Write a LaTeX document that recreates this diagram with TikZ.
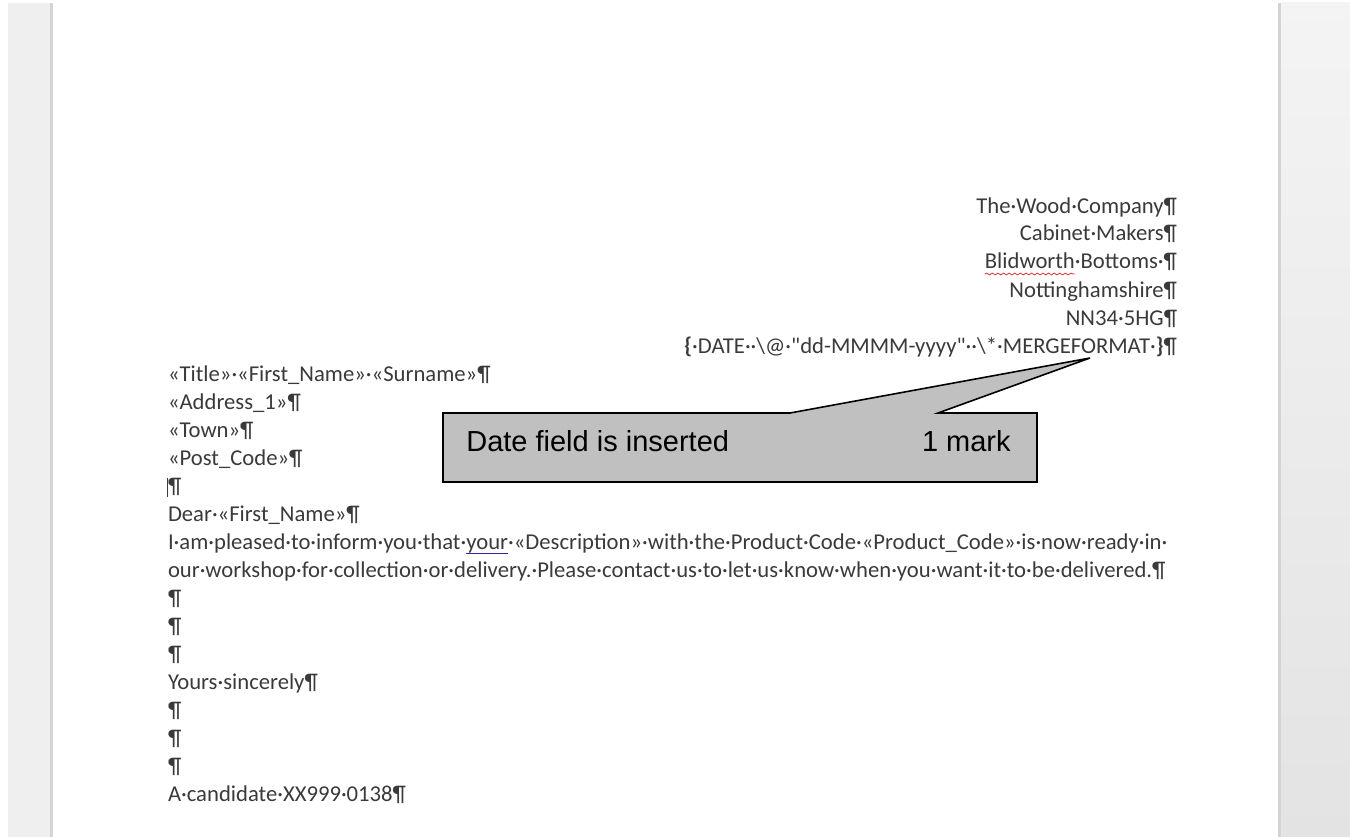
\documentclass[tikz,border=0pt]{standalone}
\usepackage{fontspec}
\newfontfamily\docfont{Carlito}
\newfontfamily\arialfont{Liberation Sans}
\usepackage{xcolor}
\definecolor{docgray}{RGB}{58, 58, 58}
\definecolor{framegray}{RGB}{239, 239, 239}
\definecolor{edgegray}{RGB}{212, 212, 212}
\definecolor{notegray}{RGB}{192, 192, 192}
\definecolor{spellred}{RGB}{214, 64, 72}
\definecolor{grammarblue}{RGB}{44, 44, 150}
\usepackage{tikz}
\usetikzlibrary{positioning, calc, decorations.pathmorphing}

\tikzset{
  doc/.style={font=\docfont\fontsize{12.9}{15.5}\selectfont, text=docgray, inner sep=0pt, outer sep=0pt},
  left line/.style={doc, anchor=base west},
  right line/.style={doc, anchor=base east},
  note text/.style={font=\arialfont\fontsize{16.5}{19}\selectfont, inner sep=0pt, anchor=base west},
  note box/.style={fill=notegray, draw=black, line width=0.9pt, line join=miter},
}

\begin{document}
\begin{tikzpicture}[x=0.2mm, y=-0.2mm]
    \useasboundingbox (0,0) rectangle (1350,837);
    \fill[framegray] (8,3) rectangle (50,837);
    \fill[edgegray] (50,3) rectangle (53,837);
    \shade[top color=framegray!70, bottom color=framegray!95!black] (1281,3) rectangle (1350,837);
    \fill[edgegray] (1278,3) rectangle (1281,837);

    \node[right line] (company) at (1177,213) {The·Wood·Company¶};
    \node[right line] (trade) at (1177,241) {Cabinet·Makers¶};
    \node[right line] (bottoms) at (1177,269) {·Bottoms·¶};
    \node[doc, anchor=base east] (village) at (bottoms.base west) {Blidworth};
    \node[right line] (county) at (1177,297) {Nottinghamshire¶};
    \node[right line] (postcode) at (1177,325) {NN34·5HG¶};
    \node[right line] (datefield) at (1177,353) {\textbf{\{}·DATE··\textbackslash@·"dd-MMMM-yyyy"··\textbackslash*·MERGEFORMAT·\textbf{\}}¶};
    \draw[spellred, line width=0.5pt, decorate, decoration={snake, amplitude=0.5pt, segment length=3.2pt}]
        ($(village.base west)+(0,5)$) -- ($(village.base east)+(0,5)$);

    \foreach \txt [count=\n from 0] in {{«Title»·«First\_Name»·«Surname»¶}, {«Address\_1»¶}, {«Town»¶},
        {«Post\_Code»¶}, ¶, {Dear·«First\_Name»¶}, {I·am·pleased·to·inform·you·that·},
        {our·workshop·for·collection·or·delivery.·Please·contact·us·to·let·us·know·when·you·want·it·to·be·delivered.¶},
        ¶, ¶, ¶, {Yours·sincerely¶}, ¶, ¶, ¶, {A·candidate·XX999·0138¶}}
        \node[left line] (body-\n) at (168,381+28*\n) {\txt};
    \node[doc, anchor=base west] (your) at (body-6.base east) {your};
    \node[doc, anchor=base west] (pleased-rest) at (your.base east) {·«Description»·with·the·Product·Code·«Product\_Code»·is·now·ready·in·};
    \draw[grammarblue, line width=0.5pt] ($(your.base west)+(0,4)$) -- ($(your.base east)+(0,4)$);
    \draw[docgray, line width=0.4pt] ($(body-4.base west)+(-1,4)$) -- ++(0,-19);

    \coordinate (tip) at (1090,358);
    \filldraw[note box] (443,482) |- (790,413) -- (tip) -- (938,413) -| (1037,482) -- cycle;
    \node[note text] (note-label) at (466,451) {Date field is inserted};
    \node[note text, anchor=base east] (note-mark) at (1011,451) {1 mark};
\end{tikzpicture}
\end{document}
